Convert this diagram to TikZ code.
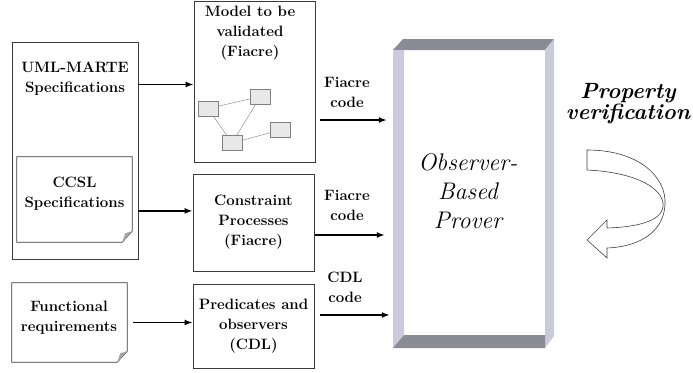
\documentclass[tikz,border=0pt]{standalone}
\usetikzlibrary{arrows.meta}
\usetikzlibrary{calc}

\definecolor{boxline}{HTML}{3A3A3A}
\definecolor{foldgray}{HTML}{A6A6A6}
\definecolor{facedark}{HTML}{8A8B95}
\definecolor{facelight}{HTML}{C9CBDB}
\definecolor{smallbox}{HTML}{E8E8E8}

\tikzset{
    box/.style={draw=boxline, line width=0.8pt, minimum width=121pt},
    boxtext/.style={font=\bfseries\fontsize{15}{20}\selectfont, align=center, inner sep=0pt},
    mini/.style={draw=gray, fill=smallbox, minimum width=20pt, minimum height=15pt, inner sep=0pt},
    flow/.style={line width=1.6pt, -{Latex[length=8pt,width=6pt]}}
}

\begin{document}
\begin{tikzpicture}[x=1pt,y=-1pt]
    \useasboundingbox (0,0) rectangle (693,372);

    % left side: specifications
    \node[draw=boxline, line width=0.8pt, minimum width=126pt, minimum height=217pt] (uml) at (75,150.5) {};
    \node[boxtext] (umltxt) at (75,78.5) {UML-MARTE\\Specifications};
    \node[minimum width=115pt, minimum height=85pt] (ccsl) at (74.5,199.5) {};
    \node[minimum width=115pt, minimum height=79pt] (func) at (69.5,322.5) {};

    \foreach \doc in {ccsl,func} {
        \draw[draw=boxline, line width=0.8pt, fill=white]
            (\doc.north west) -- (\doc.north east) -- ([yshift=11pt]\doc.south east)
            -- ([xshift=-10pt]\doc.south east) -- (\doc.south west) -- cycle;
        \fill[foldgray] ([yshift=11pt]\doc.south east) -- ([xshift=-10pt]\doc.south east)
            -- ([xshift=-7pt,yshift=9pt]\doc.south east) -- cycle;
    }
    \node[boxtext] (ccsltxt) at (74.5,194) {CCSL\\Specifications};
    \node[boxtext] (functxt) at (69,318) {Functional\\requirements};

    % middle: fiacre / cdl boxes
    \node[box, minimum height=161pt] (model) at (254.5,81.5) {};
    \node[boxtext] (modeltxt) at (250,33) {Model to be\\validated\\(Fiacre)};
    \node[box, minimum height=97pt] (cons) at (253.5,222.5) {};
    \node[boxtext] at (cons) {Constraint\\Processes\\(Fiacre)};
    \node[box, minimum height=84pt] (pred) at (253.5,326) {};
    \node[boxtext] at (pred) {Predicates and\\observers\\(CDL)};

    % little model graph
    \node[mini] (ga) at (208,108.5) {};
    \node[mini] (gb) at (260.5,96.5) {};
    \node[mini] (gc) at (232,143) {};
    \node[mini] (gd) at (280.5,130) {};
    \draw[gray] (ga) -- (gb);
    \draw[gray] (ga) -- (gc);
    \draw[gray] (gb) -- (gc);
    \draw[gray] (gc) -- (gd);

    \draw[flow] ([yshift=-3pt]uml.east |- model.west) -- ([yshift=-3pt]model.west);
    \draw[flow] (uml.east |- ccsltxt.south) -- (cons.west |- ccsltxt.south);
    \draw[flow, shorten <=6pt] (func.east) -- (pred.west |- func.east);

    % prover block
    \node[minimum width=161pt, minimum height=309pt, inner sep=0pt] (prover) at (473.5,193.5) {};
    \fill[facedark]  (393,50) -- (403,39) -- (554,39) -- (545,50) -- cycle;
    \fill[facelight] (393,50) -- (404,50) -- (404,335) -- (393,348) -- cycle;
    \fill[facelight] (545,50) -- (554,39) -- (554,336) -- (545,348) -- cycle;
    \fill[facedark]  (393,348) -- (404,335) -- (545,335) -- (545,348) -- cycle;
    \node[font=\itshape\fontsize{24}{29}\selectfont, align=center] (provertxt) at (468,191) {Observer-\\Based\\Prover};

    % code arrows
    \coordinate (c1) at (320,120);
    \coordinate (c2) at (315,235);
    \coordinate (c3) at (320,315);
    \draw[flow, shorten >=6pt] (c1) -- (c1 -| prover.west);
    \draw[flow, shorten >=8pt] (c2) -- (c2 -| prover.west);
    \draw[flow, shorten >=3pt] (c3) -- (c3 -| prover.west);
    \node[boxtext] (fc1) at (347,92) {Fiacre\\code};
    \node[boxtext] (fc2) at (347,205) {Fiacre\\code};
    \node[boxtext] (cdl) at (345,287) {CDL\\code};

    % property verification loop
    \node[font=\bfseries\itshape\fontsize{22}{21}\selectfont, align=center] (prop) at (628,104) {Property\\verification};
    \draw[draw=darkgray, fill=white, line width=0.6pt]
        (587,150) .. controls (640,150) and (667,178) .. (665,205)
        .. controls (663,235) and (635,247) .. (607,248)
        -- (607,258) -- (587,240) -- (607,220) -- (607,228)
        .. controls (640,227) and (665,220) .. (663,203)
        .. controls (660,185) and (630,172) .. (587,170) -- cycle;
\end{tikzpicture}
\end{document}
